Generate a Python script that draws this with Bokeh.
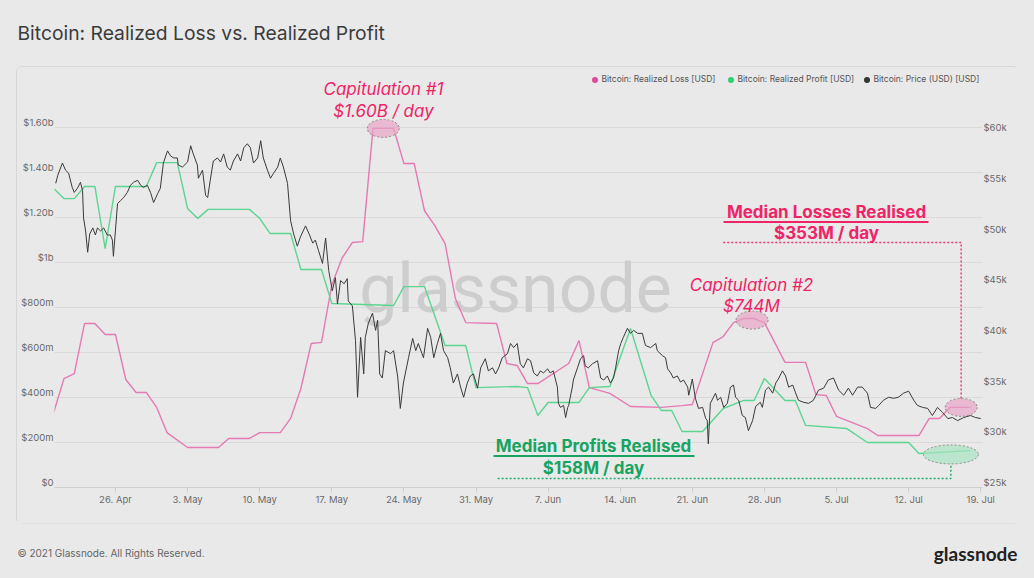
import numpy as np
import pandas as pd
from bokeh.plotting import figure
from bokeh.layouts import column, row, Spacer
from bokeh.models import (Range1d, LinearAxis, FixedTicker, CustomJSTickFormatter, Grid,
                          Label, BoxAnnotation, Legend, LegendItem)
from bokeh.embed import file_html
from bokeh.resources import INLINE

# ---------------- data (days since 2021-04-20, values) ----------------
loss_day = [0,1,2,3,4,5,6,7,8,9,10,11,13,16,17,19,20,22,23,24,25,26,27,28,29,30,31,33,34,35,
            36,37,38,39,40,43,44,45,46,47,50,51,52,54,56,59,61,62,64,65,66,67,68,69,71,73,74,75,76,79,
            80,84,85,86,87,89]
loss_musd = [333,484,506,729,729,680,680,480,422,422,356,244,178,178,218,218,244,244,307,440,
             640,645,900,1020,1089,1093,1596,1596,1440,1440,1230,1164,1084,840,733,729,551,542,462,462,
             551,653,444,418,360,356,364,369,644,671,733,751,751,733,556,556,413,409,316,262,
             231,231,307,307,356,356]

profit_day = [0,1,2,3,4,5,6,9,10,12,13,14,15,19,20,21,23,24,26,27,33,34,36,38,40,41,45,46,47,48,
              51,52,54,56,58,59,60,61,63,65,67,68,69,71,72,73,77,79,83,84,86,89]
profit_musd = [1329,1284,1284,1338,1338,1062,1338,1338,1444,1444,1240,1196,1236,1236,1196,1129,1129,969,969,818,
               809,893,893,631,631,444,449,444,320,378,378,444,449,707,409,342,342,249,249,351,
               387,387,484,387,387,276,262,200,200,151,156,164]

price_day = [0.2,0.4,0.85,1.15,1.45,1.8,2.0,2.3,2.6,2.8,2.9,3.1,3.3,3.5,3.8,4.05,4.25,4.55,4.85,5.2,
             5.5,5.7,5.8,6.2,6.5,6.8,7.15,7.45,7.75,8.15,8.45,8.7,9.1,9.4,9.7,10.1,10.35,10.65,11.05,11.35,
             11.65,12.0,12.1,12.5,13.0,13.3,13.55,13.95,14.05,14.45,14.75,14.95,15.2,15.5,15.9,16.2,16.5,16.85,17.15,17.45,
             17.85,18.15,18.45,18.8,19.1,19.4,19.8,20.1,20.35,20.75,21.05,21.35,21.75,22.0,22.3,22.7,23.0,23.3,23.65,23.95,
             24.45,24.8,25.15,25.4,25.7,26.1,26.4,26.7,27.05,27.35,27.55,27.85,28.2,28.5,28.6,29.0,29.3,29.5,29.8,30.1,
             30.25,30.55,30.95,31.25,31.45,31.65,31.9,32.2,32.7,33.0,33.4,33.65,33.95,34.45,34.85,35.15,35.4,35.9,36.3,36.6,
             36.9,37.25,37.55,37.85,38.25,38.5,38.8,39.2,39.5,39.8,40.15,40.45,40.75,41.15,41.45,41.9,42.2,42.6,42.9,43.2,
             43.55,44.05,44.35,44.65,45.0,45.3,45.6,46.0,
             46.3,46.6,46.95,47.25,47.55,47.95,48.2,48.5,48.9,49.0,49.2,49.5,49.7,49.9,50.0,50.15,50.35,50.45,50.85,51.15,
             51.45,51.6,51.9,52.3,52.8,53.1,53.4,53.75,54.05,54.35,54.55,54.85,55.05,55.3,55.7,56.0,56.3,56.7,57.15,57.45,
             57.95,58.45,58.6,59.1,59.4,59.6,59.9,60.15,60.55,60.85,61.15,61.55,61.65,62.0,62.3,62.6,63.0,63.3,63.45,63.55,
             63.75,64.05,64.25,64.45,64.75,65.05,65.4,65.7,66.0,66.2,66.5,66.85,67.15,67.45,67.85,
             68.15,68.6,68.8,69.1,69.4,69.8,70.1,70.35,70.75,71.05,71.35,71.75,72.0,72.3,72.8,73.3,73.75,74.25,74.75,75.2,
             75.7,76.2,76.7,77.15,77.55,78.05,78.5,79.0,79.3,79.8,80.1,80.55,81.05,81.55,82.0,82.5,83.0,83.5,83.85,84.35,
             84.85,85.3,85.8,86.3,86.8,87.25,87.75,88.35,89.0,89.5,90.0]
price_kusd = [55.0,55.8,57.0,56.3,56.0,54.6,54.1,54.5,55.1,54.3,51.6,50.3,48.2,50.0,50.6,49.9,50.6,50.3,50.6,49.9,
              49.9,49.4,47.8,53.0,53.3,53.6,54.1,54.8,55.1,55.3,54.8,54.6,54.8,54.1,53.1,54.0,54.5,57.0,58.2,57.7,
              57.5,57.5,56.8,56.6,57.1,58.7,57.9,56.8,55.5,56.3,53.8,53.6,55.3,57.2,57.5,57.1,57.9,56.6,56.3,57.2,
              57.9,57.2,58.5,58.9,58.5,57.0,57.5,59.2,57.5,56.3,55.5,56.0,56.6,57.5,56.6,55.0,51.3,50.0,48.8,49.7,
              50.8,50.0,49.1,49.4,48.4,47.1,49.6,46.4,44.4,45.7,43.1,45.4,45.1,45.6,43.4,42.9,39.5,33.9,39.8,36.2,
              39.8,41.2,42.2,40.5,41.5,36.2,35.8,38.5,38.2,38.5,35.9,32.8,35.3,37.8,39.7,38.5,39.2,37.8,40.7,39.8,
              37.8,39.2,40.2,38.5,37.8,36.8,35.3,36.2,34.9,33.9,35.3,36.0,36.2,34.8,36.8,37.7,36.5,36.8,36.2,36.8,
              37.8,38.2,39.2,38.8,39.2,37.2,36.8,37.7,
              37.5,36.3,36.0,36.5,36.3,36.7,36.3,36.5,34.9,33.3,32.9,33.1,31.9,32.9,33.1,33.9,34.9,35.6,36.8,37.7,
              38.0,37.0,36.8,37.2,37.5,35.8,35.6,36.0,35.3,35.8,36.8,38.5,39.2,39.8,40.7,40.2,40.5,40.2,40.2,39.0,
              38.8,39.2,38.5,38.0,37.8,36.7,36.3,35.8,36.0,35.4,35.6,34.9,34.1,35.7,33.8,32.8,32.9,31.8,31.6,29.3,
              33.3,33.9,34.3,33.6,33.9,32.9,33.3,34.9,35.1,33.9,33.6,32.1,31.9,30.6,31.6,
              33.0,33.4,32.9,34.6,34.9,34.3,35.3,35.7,36.5,36.0,34.9,35.1,34.4,33.6,33.4,33.3,33.6,34.6,34.8,35.6,
              35.8,34.6,34.1,34.8,34.1,34.9,34.9,34.3,32.9,32.8,33.1,33.6,33.9,33.8,33.9,34.3,34.5,33.6,33.1,32.9,
              32.8,32.1,32.9,32.4,31.8,31.9,31.6,31.9,32.1,31.9,31.8]

tick_dates = ["2021-04-26","2021-05-03","2021-05-10","2021-05-17","2021-05-24","2021-05-31","2021-06-07",
              "2021-06-14","2021-06-21","2021-06-28","2021-07-05","2021-07-12","2021-07-19"]
left_ticks = [0,200,400,600,800,1000,1200,1400,1600]
right_ticks = [25,30,35,40,45,50,55,60]

# ---------------- layout constants (page pixels) ----------------
W, H = 1034, 578
CARD_L, CARD_R, CARD_T, CARD_B = 17, 1018, 67, 523
FL, FR, FT, FB = 54, 982, 68, 487          # plot frame
fh = FB - FT
L_END = fh / 0.225          # $m at frame top
P0 = 25.0
P_END = P0 + fh / 10.14     # $k at frame top
LBL_PX = 5                  # axis labels sit 5px above their gridline

base_ms = pd.Timestamp("2021-04-20").value / 1e6
DAY = 86400000.0
def ms(days):
    return [base_ms + d * DAY for d in days]

PINK_LINE = "#e57ab3"
GREEN_LINE = "#5cd592"
PRICE = "#3a3a3a"
RED_TXT = "#ee2467"
GREEN_TXT = "#17a463"
BG = "#e9e9e9"

def bare_fig(w, h):
    f = figure(width=w, height=h, x_range=Range1d(0, w), y_range=Range1d(0, h),
               x_axis_location=None, y_axis_location=None, min_border=0,
               output_backend="svg", toolbar_location=None)
    f.background_fill_color = BG
    f.border_fill_color = BG
    f.outline_line_color = None
    f.grid.grid_line_color = None
    return f

# ---------- title strip ----------
top = bare_fig(W, CARD_T)
top.add_layout(Label(x=17, y=CARD_T - 32, text="Bitcoin: Realized Loss vs. Realized Profit",
                     text_font="Inter", text_font_size="19.3px", text_color="#3b3b3b",
                     text_align="left", text_baseline="middle"))

# ---------- footer strip ----------
bot = bare_fig(W, H - CARD_B)
bot.add_layout(Label(x=17, y=(H - CARD_B) - (552 - CARD_B), text="\u00a9 2021 Glassnode. All Rights Reserved.",
                     text_font="Inter", text_font_size="10px", text_color="#666666",
                     text_align="left", text_baseline="middle"))
bot.add_layout(Label(x=1017, y=(H - CARD_B) - (553 - CARD_B), text="glassnode",
                     text_font="Lato", text_font_size="19px", text_font_style="bold", text_color="#222222",
                     text_align="right", text_baseline="middle"))

# ---------- main chart ----------
MW, MH = CARD_R - CARD_L, CARD_B - CARD_T
p = figure(width=MW, height=MH, x_axis_type="datetime", y_axis_location=None,
           output_backend="svg", toolbar_location=None,
           min_border_left=FL - CARD_L, min_border_right=CARD_R - FR,
           min_border_top=FT - CARD_T, min_border_bottom=CARD_B - FB,
           x_range=Range1d(base_ms + 0.08 * DAY, base_ms + 90.17 * DAY),
           y_range=Range1d(0, L_END))
p.styles = {"box-shadow": "0 0 0 1px #d7d7d7", "border-radius": "5px"}
p.background_fill_color = BG
p.border_fill_color = BG
p.outline_line_color = None
p.xgrid.grid_line_color = None
p.ygrid.grid_line_color = None

off_l = LBL_PX * L_END / fh
off_p = LBL_PX * (P_END - P0) / fh
p.extra_y_ranges = {
    "price": Range1d(P0, P_END),
    "loss_lab": Range1d(-off_l, L_END - off_l),
    "price_lab": Range1d(P0 - off_p, P_END - off_p),
}

p.add_layout(Grid(dimension=1, ticker=FixedTicker(ticks=left_ticks), grid_line_color="#dadada", grid_line_width=1))

# watermark
p.add_layout(Label(x=515 - FL, y=FB - 288, x_units="screen", y_units="screen", text="glassnode",
                   text_font="Roboto", text_font_size="68px", text_color="#cdcdcd",
                   text_align="center", text_baseline="middle", level="underlay"))

ax_fmt_left = CustomJSTickFormatter(code="""
if (tick == 0) return '$0';
if (tick < 1000) return '$' + Math.round(tick) + 'm';
if (Math.abs(tick - 1000) < 1e-6) return '$1b';
return '$' + (tick / 1000).toFixed(2) + 'b';
""")
lax = LinearAxis(y_range_name="loss_lab", ticker=FixedTicker(ticks=left_ticks), formatter=ax_fmt_left)
rax = LinearAxis(y_range_name="price_lab", ticker=FixedTicker(ticks=right_ticks),
                 formatter=CustomJSTickFormatter(code="return '$' + tick + 'k';"))
for ax in (lax, rax):
    ax.axis_line_color = None
    ax.major_tick_line_color = None
    ax.minor_tick_line_color = None
    ax.major_tick_out = 0
    ax.major_tick_in = 0
    ax.minor_tick_out = 0
    ax.major_label_standoff = 1
    ax.major_label_text_font = "Inter"
    ax.major_label_text_font_size = "9.5px"
    ax.major_label_text_color = "#6a6a6a"
p.add_layout(lax, "left")
p.add_layout(rax, "right")

xax = p.xaxis[0]
xax.ticker = FixedTicker(ticks=[pd.Timestamp(d).value / 1e6 for d in tick_dates])
xax.formatter = CustomJSTickFormatter(code="""
const m = ['Jan','Feb','Mar','Apr','May','Jun','Jul','Aug','Sep','Oct','Nov','Dec'];
const d = new Date(tick);
return d.getUTCDate() + '. ' + m[d.getUTCMonth()];
""")
xax.axis_line_color = "#cfcfcf"
xax.major_tick_line_color = "#cfcfcf"
xax.major_tick_out = 5
xax.major_tick_in = 0
xax.minor_tick_line_color = None
xax.minor_tick_out = 0
xax.major_label_standoff = 1
xax.major_label_text_font = "Inter"
xax.major_label_text_font_size = "9.5px"
xax.major_label_text_color = "#6a6a6a"

# series
p.line(ms(loss_day), loss_musd, line_color=PINK_LINE, line_width=1.4)
p.line(ms(profit_day), profit_musd, line_color=GREEN_LINE, line_width=1.4)
p.line(ms(price_day), price_kusd, line_color=PRICE, line_width=1.0, y_range_name="price")

# annotations: ellipses + connectors (days / $m)
p.ellipse(x=ms([32.0, 67.8, 88.1]), y=[1596, 744, 356], width=32, height=18,
          width_units="screen", height_units="screen",
          fill_color="#e8a3c6", fill_alpha=0.7, line_color="#8a8a8a", line_dash="2 2", line_width=1)
p.ellipse(x=ms([87.1]), y=[147], width=55, height=19, width_units="screen", height_units="screen",
          fill_color="#a6e3bf", fill_alpha=0.7, line_color="#8a8a8a", line_dash="2 2", line_width=1)
p.line(ms([65.0, 88.1, 88.1]), [1089, 1089, 396], line_color="#ee3a72", line_dash="2 2", line_width=1.5)
p.line(ms([43.1, 87.1, 87.1]), [40, 40, 104], line_color="#1fae6a", line_dash="2 2", line_width=1.5)

def txt(text, X, Y, size, color, style="normal", align="center", font="Inter"):
    p.add_layout(Label(x=X - FL, y=FB - Y, x_units="screen", y_units="screen", text=text,
                       text_font=font, text_font_size=size, text_color=color, text_font_style=style,
                       text_align=align, text_baseline="middle"))

def uline(X0, X1, Y, color):
    p.add_layout(BoxAnnotation(left=X0 - FL, right=X1 - FL, top=FB - Y + 1, bottom=FB - Y - 1,
                               left_units="screen", right_units="screen", top_units="screen", bottom_units="screen",
                               fill_color=color, fill_alpha=1, line_color=None))

txt("Capitulation #1", 383, 88, "17px", RED_TXT, "italic")
txt("$1.60B / day", 383, 110, "17px", RED_TXT, "italic")
txt("Capitulation #2", 751, 284, "17px", RED_TXT, "italic")
txt("$744M", 751, 305, "17px", RED_TXT, "italic")
txt("Median Losses Realised", 826, 211, "17px", RED_TXT, "bold")
uline(723, 928, 221.5, RED_TXT)
txt("$353M / day", 826, 232, "17px", RED_TXT, "bold")
txt("Median Profits Realised", 593, 445, "17px", GREEN_TXT, "bold")
uline(493, 694, 455.5, GREEN_TXT)
txt("$158M / day", 593, 467, "17px", GREEN_TXT, "bold")

# legend (size-0 proxies; legend draws its own dot)
r1 = p.scatter(ms(loss_day), loss_musd, size=0, fill_color="#e0489a", line_color=None)
r2 = p.scatter(ms(profit_day), profit_musd, size=0, fill_color="#2fcf78", line_color=None)
r3 = p.scatter(ms(price_day), price_kusd, size=0, fill_color="#333333", line_color=None, y_range_name="price")
leg = Legend(items=[LegendItem(label="Bitcoin: Realized Loss [USD]", renderers=[r1]),
                    LegendItem(label="Bitcoin: Realized Profit [USD]", renderers=[r2]),
                    LegendItem(label="Bitcoin: Price (USD) [USD]", renderers=[r3])],
             orientation="horizontal", location=(586.5 - FL, FB - 86.5),
             glyph_width=15, glyph_height=15, label_standoff=0, label_width=117, spacing=4,
             padding=0, margin=0, border_line_color=None, background_fill_alpha=0,
             label_text_font="Inter", label_text_font_size="8.5px", label_text_color="#555555",
             label_height=15)
p.add_layout(leg)

layout = column(top,
                row(Spacer(width=CARD_L, height=MH, styles={"background-color": BG}), p,
                    Spacer(width=W - CARD_R, height=MH, styles={"background-color": BG})),
                bot, styles={"background-color": BG})

open("out.html", "w").write(file_html(layout, INLINE))
